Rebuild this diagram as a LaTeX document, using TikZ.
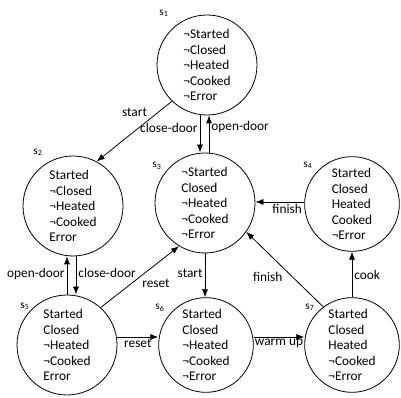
\documentclass[tikz,border=0pt]{standalone}
\usepackage{fontspec}
\setmainfont{Carlito}
\usetikzlibrary{arrows.meta}

\begin{document}
\begin{tikzpicture}[x=0.75pt, y=-0.75pt, >={Latex[length=6pt,width=4.6pt]},
    state/.style={draw, circle, line width=0.6pt, minimum size=75pt, inner sep=0pt,
        align=left, font=\fontsize{10}{11.6}\selectfont},
    small/.style={minimum size=71pt},
    sname/.style={font=\fontsize{8.5}{9}\selectfont, inner sep=0pt},
    lbl/.style={font=\fontsize{10}{11}\selectfont, inner sep=1.5pt},
    tr/.style={->, line width=0.6pt}]

    \useasboundingbox (0,0) rectangle (401,398);

    % 1. Trạng thái
    \node[state] (s1) at (207,65)  {¬Started\\¬Closed\\¬Heated\\¬Cooked\\¬Error};
    \node[state] (s2) at (73,206)  {Started\\¬Closed\\¬Heated\\¬Cooked\\Error};
    \node[state] (s3) at (205,203) {¬Started\\Closed\\¬Heated\\¬Cooked\\¬Error};
    \node[state, small] (s4) at (352,204) {Started\\Closed\\Heated\\Cooked\\¬Error};
    \node[state] (s5) at (67,345)  {Started\\Closed\\¬Heated\\¬Cooked\\Error};
    \node[state, small] (s6) at (206,345) {Started\\Closed\\¬Heated\\¬Cooked\\¬Error};
    \node[state, small] (s7) at (352,345) {Started\\Closed\\Heated\\¬Cooked\\¬Error};

    % 2. Tên trạng thái
    \node[sname] (n1) at (164,13)  {s\textsubscript{1}};
    \node[sname] (n2) at (38,152)  {s\textsubscript{2}};
    \node[sname] (n3) at (157,166) {s\textsubscript{3}};
    \node[sname] (n4) at (308,165) {s\textsubscript{4}};
    \node[sname] (n5) at (25,306)  {s\textsubscript{5}};
    \node[sname] (n6) at (160,308) {s\textsubscript{6}};
    \node[sname] (n7) at (310,307) {s\textsubscript{7}};

    % 3. Chuyển trạng thái
    \draw[tr] (s1.226) -- node[lbl, above left, pos=0.3] {start} (s2.62);
    \draw[tr] ([xshift=-5.25pt]s1.south) -- node[lbl, left, pos=0.35] {close-door}
        ([xshift=-5.25pt]s1.south |- s3.north);
    \draw[tr] ([xshift=3pt]s3.north) -- node[lbl, right, pos=0.7] {open-door}
        ([xshift=3pt]s3.north |- s1.south);
    \draw[tr] ([yshift=1.5pt]s4.west) -- node[lbl, below, pos=0.35] {finish}
        ([yshift=1.5pt]s4.west -| s3.east);
    \draw[tr] (s7.127) -- node[lbl, below left, pos=0.5] {finish} (s3.325);
    \draw[tr] (s3.south) -- node[lbl, left, pos=0.45] {start} (s3.south |- s6.north);
    \draw[tr] (s5.north) -- node[lbl, left, pos=0.55] {open-door} (s5.north |- s2.south);
    \draw[tr] ([xshift=2.25pt]s2.south) -- node[lbl, right, pos=0.43] {close-door}
        ([xshift=2.25pt]s2.south |- s5.north);
    \draw[tr] (s5.48) -- node[lbl, below right, pos=0.5] {reset} (s3.239);
    \draw[tr] ([yshift=6pt]s5.east) -- node[lbl, below] {reset}
        ([yshift=6pt]s5.east -| s6.west);
    \draw[tr] ([yshift=6pt]s6.east) -- node[lbl, below, inner sep=1pt] {warm up}
        ([yshift=6pt]s6.east -| s7.west);
    \draw[tr] (s7.north) -- node[lbl, right, pos=0.5] {cook} (s4.south);

\end{tikzpicture}
\end{document}
